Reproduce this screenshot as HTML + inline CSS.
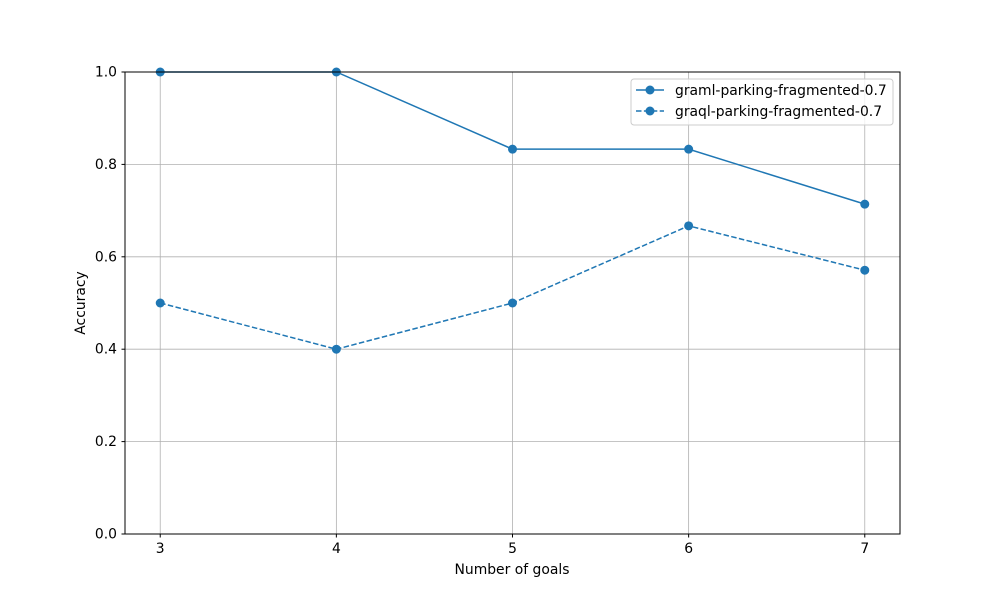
<!DOCTYPE html>
<html><head><meta charset="utf-8"><style>
body{margin:0;background:#fff}
svg text{font-family:"DejaVu Sans","Liberation Sans",sans-serif;font-size:13.9px;fill:#000}
</style></head><body>
<svg width="1000" height="600" viewBox="0 0 1000 600">
<rect width="1000" height="600" fill="#fff"/>
<g id="grid"></g>
<g id="series"></g>
<rect x="125" y="72" width="775" height="462" fill="none" stroke="#000" stroke-width="1"/>
<g id="ticks"></g>
<text x="512" y="574" text-anchor="middle">Number of goals</text>
<text transform="translate(85,303) rotate(-90)" text-anchor="middle">Accuracy</text>
<g>
<rect x="631" y="79" width="262" height="46" rx="3" fill="#fff" fill-opacity="0.8" stroke="#ccc"/>
<g>
<line x1="636" y1="90" x2="664" y2="90" stroke="#1f77b4" stroke-width="1.5"/>
<circle cx="650" cy="90" r="4.5" fill="#1f77b4"/>
<text x="675" y="95">graml-parking-fragmented-0.7</text></g>
<g>
<line x1="636" y1="111" x2="664" y2="111" stroke="#1f77b4" stroke-width="1.5" stroke-dasharray="5.5,2.4"/>
<circle cx="650" cy="111" r="4.5" fill="#1f77b4"/>
<text x="675" y="116">graql-parking-fragmented-0.7</text></g>
</g>
</svg>
<script>
const categories=[3,4,5,6,7];
const gramlValues=[1.0,1.0,0.833,0.833,0.714];
const graqlValues=[0.5,0.4,0.5,0.667,0.571];
const yTicks=[0,0.2,0.4,0.6,0.8,1.0];
const yTickLabels=["0.0","0.2","0.4","0.6","0.8","1.0"];
const NS="http://www.w3.org/2000/svg";
const xs=v=>125+(v-2.8)/(4.4)*775;
const ys=v=>534-v*462;
function mk(t,a,p){const e=document.createElementNS(NS,t);for(const k in a)e.setAttribute(k,a[k]);p.appendChild(e);return e;}
const grid=document.getElementById('grid'),ticks=document.getElementById('ticks'),ser=document.getElementById('series');
categories.forEach(c=>{
 const l=mk('line',{x1:xs(c),x2:xs(c),y1:72,y2:534,stroke:'#b0b0b0','stroke-width':0.8},grid);
 
 
 mk('line',{x1:xs(c),x2:xs(c),y1:534,y2:537.5,stroke:'#000'},ticks);
 const t=mk('text',{x:xs(c),y:553,'text-anchor':'middle'},ticks);t.textContent=c;
 
 
});
yTicks.forEach((v,i)=>{
 const l=mk('line',{x1:125,x2:900,y1:ys(v),y2:ys(v),stroke:'#b0b0b0','stroke-width':0.8},grid);
 
 
 mk('line',{x1:121.5,x2:125,y1:ys(v),y2:ys(v),stroke:'#000'},ticks);
 const t=mk('text',{x:117,y:ys(v)+4.5,'text-anchor':'end'},ticks);t.textContent=yTickLabels[i];
 
 
});
function draw(vals,dash,name){
 const g=mk('g',{},ser);
 
 
 const a={points:categories.map((c,i)=>xs(c)+','+ys(vals[i])).join(' '),fill:'none',stroke:'#1f77b4','stroke-width':1.5};
 if(dash)a['stroke-dasharray']='5.5,2.4';
 mk('polyline',a,g);
 categories.forEach((c,i)=>{const p=mk('circle',{cx:xs(c),cy:ys(vals[i]),r:4.5,fill:'#1f77b4'},g);
 
 });
}
draw(gramlValues,false,'series-graml');
draw(graqlValues,true,'series-graql');
</script>
</body></html>
